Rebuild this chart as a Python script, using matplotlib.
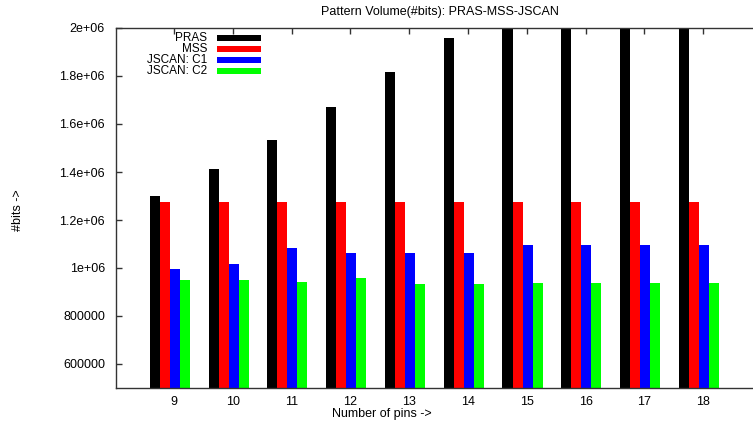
import matplotlib
matplotlib.use('Agg')
import matplotlib.pyplot as plt
import numpy as np
from matplotlib.patches import Rectangle

plt.rcParams['font.family'] = ['Liberation Sans', 'DejaVu Sans']

pins = ['9', '10', '11', '12', '13', '14', '15', '16', '17', '18']
pras = [1302000, 1414000, 1535000, 1672000, 1815000, 1958000, 2110000, 2270000, 2430000, 2600000]
mss = [1274000] * 10
jscan_c1 = [994000, 1015000, 1082000, 1061000, 1061000, 1061000, 1094000, 1094000, 1094000, 1094000]
jscan_c2 = [949000, 949000, 941000, 958000, 933000, 933000, 937000, 937000, 937000, 937000]
series_names = ['PRAS', 'MSS', 'JSCAN: C1', 'JSCAN: C2']
yticks = [600000, 800000, 1000000, 1200000, 1400000, 1600000, 1800000, 2000000]
ytick_labels = ['600000', '800000', '1e+06', '1.2e+06', '1.4e+06', '1.6e+06', '1.8e+06', '2e+06']

colors = ['#000000', '#ff0000', '#0000ff', '#00ff00']
FS = 9
FS_LEG = 8.5

W, H = 753, 424
fig = plt.figure(figsize=(W / 100, H / 100), dpi=100)
RIGHT_PX = 780
left, right, top, bottom = 116 / W, RIGHT_PX / W, 1 - 28 / H, 1 - 388 / H
ax = fig.add_axes([left, bottom, right - left, top - bottom])

spacing = 58.8
x = np.arange(len(pins))
w = 10 / spacing
start = -24.3 / spacing
for k, (vals, c) in enumerate(zip([pras, mss, jscan_c1, jscan_c2], colors)):
    ax.bar(x + start + k * w, vals, width=w, align='edge', color=c, linewidth=0, zorder=2)

x0 = -(174 - 116) / spacing
ax.set_xlim(x0, x0 + (RIGHT_PX - 116) / spacing)
ax.set_ylim(500000, 2000000)
ax.set_xticks(x)
ax.set_xticklabels(pins)
ax.set_yticks(yticks)
ax.set_yticklabels(ytick_labels)
ax.tick_params(direction='in', length=4, width=1, color='#333333', top=True, right=False,
               labelsize=FS, labelcolor='#000000')
ax.tick_params(axis='y', pad=8)
ax.tick_params(axis='x', pad=6)
for s in ax.spines.values():
    s.set_color('#333333')
    s.set_linewidth(1)
ax.spines['right'].set_visible(False)

fig.text(439.5 / W, 1 - 12 / H, 'Pattern Volume(#bits): PRAS-MSS-JSCAN', ha='center', va='center', fontsize=FS)
fig.text(382 / W, 1 - 414 / H, 'Number of pins ->', ha='center', va='center', fontsize=FS)
fig.text(18 / W, 1 - 210 / H, '#bits ->', ha='center', va='center', rotation=90, fontsize=FS)

rows = [38, 49, 60, 71]
for name, c, py in zip(series_names, colors, rows):
    fig.text(207 / W, 1 - py / H, name, ha='right', va='center', fontsize=FS_LEG)
    fig.patches.append(Rectangle((217 / W, 1 - (py + 3) / H), 44 / W, 6 / H,
                                 transform=fig.transFigure, facecolor=c, edgecolor='none', zorder=5))

fig.savefig('out.png', dpi=100)
